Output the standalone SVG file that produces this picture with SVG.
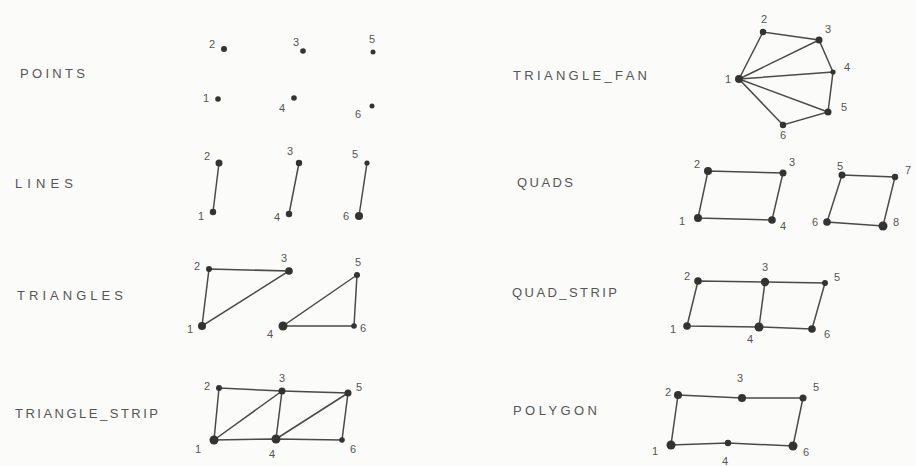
<svg xmlns="http://www.w3.org/2000/svg" width="916" height="466" viewBox="0 0 916 466">
<style>
.bg{fill:#fbfbfa}
.e{stroke:#4a4a4a;stroke-width:1.5;fill:none;stroke-linecap:round}
.v{fill:#333}
.n{font-family:"Liberation Sans",Arial,sans-serif;font-size:11px;fill:#555;text-anchor:middle}
.t{font-family:"Liberation Sans",Arial,sans-serif;font-size:13px;fill:#555}
</style>
<rect class="bg" x="0" y="0" width="916" height="466"/>

<g id="titles">
<text class="t" x="20" y="78" textLength="65" lengthAdjust="spacing">POINTS</text>
<text class="t" x="15" y="188" textLength="58" lengthAdjust="spacing">LINES</text>
<text class="t" x="17" y="300" textLength="106" lengthAdjust="spacing">TRIANGLES</text>
<text class="t" x="15" y="418" textLength="143" lengthAdjust="spacing">TRIANGLE_STRIP</text>
<text class="t" x="513" y="80" textLength="134" lengthAdjust="spacing">TRIANGLE_FAN</text>
<text class="t" x="517" y="187" textLength="56" lengthAdjust="spacing">QUADS</text>
<text class="t" x="512" y="297" textLength="105" lengthAdjust="spacing">QUAD_STRIP</text>
<text class="t" x="513" y="415" textLength="84" lengthAdjust="spacing">POLYGON</text>
</g>

<g id="connectors">
<line class="e" x1="219" y1="163" x2="213" y2="212"/>
<line class="e" x1="299" y1="163" x2="289" y2="214"/>
<line class="e" x1="367" y1="163" x2="359" y2="216"/>
<polygon class="e" points="209,269 289,271 202,326"/>
<polygon class="e" points="357,275 283,326 354,326"/>
<polyline class="e" points="219,388 282,391 348,393 342,440 276,439 214,440 219,388"/>
<line class="e" x1="214" y1="440" x2="282" y2="391"/>
<line class="e" x1="282" y1="391" x2="276" y2="439"/>
<line class="e" x1="276" y1="439" x2="348" y2="393"/>
<polygon class="e" points="739,79 763,32 819,40 833,72 828,112 783,125"/>
<line class="e" x1="739" y1="79" x2="819" y2="40"/>
<line class="e" x1="739" y1="79" x2="833" y2="72"/>
<line class="e" x1="739" y1="79" x2="828" y2="112"/>
<polygon class="e" points="708,171 783,173 772,220 698,218"/>
<polygon class="e" points="842,175 895,177 883,226 827,222"/>
<polygon class="e" points="698,281 765,282 825,283 812,329 759,327 687,326"/>
<line class="e" x1="765" y1="282" x2="759" y2="327"/>
<polygon class="e" points="678,395 742,398 803,398 793,446 728,443 671,445"/>
</g>

<g id="points-v1"><circle class="v" cx="218" cy="99" r="2.8"/><text class="n" x="206" y="102">1</text></g>
<g id="points-v2"><circle class="v" cx="224" cy="49" r="3"/><text class="n" x="212" y="48">2</text></g>
<g id="points-v3"><circle class="v" cx="303" cy="51" r="2.8"/><text class="n" x="296" y="46">3</text></g>
<g id="points-v4"><circle class="v" cx="294" cy="98" r="2.8"/><text class="n" x="282" y="112">4</text></g>
<g id="points-v5"><circle class="v" cx="373" cy="52" r="2.5"/><text class="n" x="372" y="43">5</text></g>
<g id="points-v6"><circle class="v" cx="372" cy="106" r="2.5"/><text class="n" x="358" y="118">6</text></g>

<g id="lines-v1"><circle class="v" cx="213" cy="212" r="3.2"/><text class="n" x="201" y="220">1</text></g>
<g id="lines-v2"><circle class="v" cx="219" cy="163" r="3.5"/><text class="n" x="207" y="160">2</text></g>
<g id="lines-v3"><circle class="v" cx="299" cy="163" r="3.2"/><text class="n" x="290" y="155">3</text></g>
<g id="lines-v4"><circle class="v" cx="289" cy="214" r="3.2"/><text class="n" x="277" y="221">4</text></g>
<g id="lines-v5"><circle class="v" cx="367" cy="163" r="2.6"/><text class="n" x="355" y="158">5</text></g>
<g id="lines-v6"><circle class="v" cx="359" cy="216" r="4"/><text class="n" x="346" y="220">6</text></g>

<g id="tri-v1"><circle class="v" cx="202" cy="326" r="4"/><text class="n" x="190" y="333">1</text></g>
<g id="tri-v2"><circle class="v" cx="209" cy="269" r="3"/><text class="n" x="197" y="270">2</text></g>
<g id="tri-v3"><circle class="v" cx="289" cy="271" r="3.8"/><text class="n" x="284" y="262">3</text></g>
<g id="tri-v4"><circle class="v" cx="283" cy="326" r="4.5"/><text class="n" x="270" y="338">4</text></g>
<g id="tri-v5"><circle class="v" cx="357" cy="275" r="3"/><text class="n" x="358" y="266">5</text></g>
<g id="tri-v6"><circle class="v" cx="354" cy="326" r="2.8"/><text class="n" x="363" y="332">6</text></g>

<g id="strip-v1"><circle class="v" cx="214" cy="440" r="4.5"/><text class="n" x="198" y="453">1</text></g>
<g id="strip-v2"><circle class="v" cx="219" cy="388" r="3"/><text class="n" x="207" y="390">2</text></g>
<g id="strip-v3"><circle class="v" cx="282" cy="391" r="3.5"/><text class="n" x="282" y="382">3</text></g>
<g id="strip-v4"><circle class="v" cx="276" cy="439" r="4.5"/><text class="n" x="272" y="458">4</text></g>
<g id="strip-v5"><circle class="v" cx="348" cy="393" r="3.5"/><text class="n" x="359" y="391">5</text></g>
<g id="strip-v6"><circle class="v" cx="342" cy="440" r="2.8"/><text class="n" x="353" y="453">6</text></g>

<g id="fan-v1"><circle class="v" cx="739" cy="79" r="4"/><text class="n" x="728" y="83">1</text></g>
<g id="fan-v2"><circle class="v" cx="763" cy="32" r="3.2"/><text class="n" x="764" y="23">2</text></g>
<g id="fan-v3"><circle class="v" cx="819" cy="40" r="3.5"/><text class="n" x="828" y="33">3</text></g>
<g id="fan-v4"><circle class="v" cx="833" cy="72" r="2.6"/><text class="n" x="847" y="71">4</text></g>
<g id="fan-v5"><circle class="v" cx="828" cy="112" r="3.5"/><text class="n" x="844" y="111">5</text></g>
<g id="fan-v6"><circle class="v" cx="783" cy="125" r="3.2"/><text class="n" x="783" y="139">6</text></g>

<g id="quads-v1"><circle class="v" cx="698" cy="218" r="4"/><text class="n" x="682" y="225">1</text></g>
<g id="quads-v2"><circle class="v" cx="708" cy="171" r="4"/><text class="n" x="697" y="168">2</text></g>
<g id="quads-v3"><circle class="v" cx="783" cy="173" r="3.5"/><text class="n" x="792" y="166">3</text></g>
<g id="quads-v4"><circle class="v" cx="772" cy="220" r="3.8"/><text class="n" x="783" y="230">4</text></g>
<g id="quads-v5"><circle class="v" cx="842" cy="175" r="3.5"/><text class="n" x="840" y="170">5</text></g>
<g id="quads-v6"><circle class="v" cx="827" cy="222" r="3.8"/><text class="n" x="815" y="226">6</text></g>
<g id="quads-v7"><circle class="v" cx="895" cy="177" r="3.2"/><text class="n" x="908" y="174">7</text></g>
<g id="quads-v8"><circle class="v" cx="883" cy="226" r="4.5"/><text class="n" x="896" y="226">8</text></g>

<g id="qstrip-v1"><circle class="v" cx="687" cy="326" r="3.8"/><text class="n" x="673" y="333">1</text></g>
<g id="qstrip-v2"><circle class="v" cx="698" cy="281" r="3.8"/><text class="n" x="687" y="280">2</text></g>
<g id="qstrip-v3"><circle class="v" cx="765" cy="282" r="4.2"/><text class="n" x="765" y="271">3</text></g>
<g id="qstrip-v4"><circle class="v" cx="759" cy="327" r="4.5"/><text class="n" x="750" y="343">4</text></g>
<g id="qstrip-v5"><circle class="v" cx="825" cy="283" r="3"/><text class="n" x="837" y="281">5</text></g>
<g id="qstrip-v6"><circle class="v" cx="812" cy="329" r="3.8"/><text class="n" x="827" y="338">6</text></g>

<g id="poly-v1"><circle class="v" cx="671" cy="445" r="4.5"/><text class="n" x="655" y="455">1</text></g>
<g id="poly-v2"><circle class="v" cx="678" cy="395" r="4"/><text class="n" x="668" y="396">2</text></g>
<g id="poly-v3"><circle class="v" cx="742" cy="398" r="4"/><text class="n" x="740" y="382">3</text></g>
<g id="poly-v4"><circle class="v" cx="728" cy="443" r="3.2"/><text class="n" x="725" y="465">4</text></g>
<g id="poly-v5"><circle class="v" cx="803" cy="398" r="3.5"/><text class="n" x="816" y="391">5</text></g>
<g id="poly-v6"><circle class="v" cx="793" cy="446" r="4.5"/><text class="n" x="806" y="456">6</text></g>
</svg>
